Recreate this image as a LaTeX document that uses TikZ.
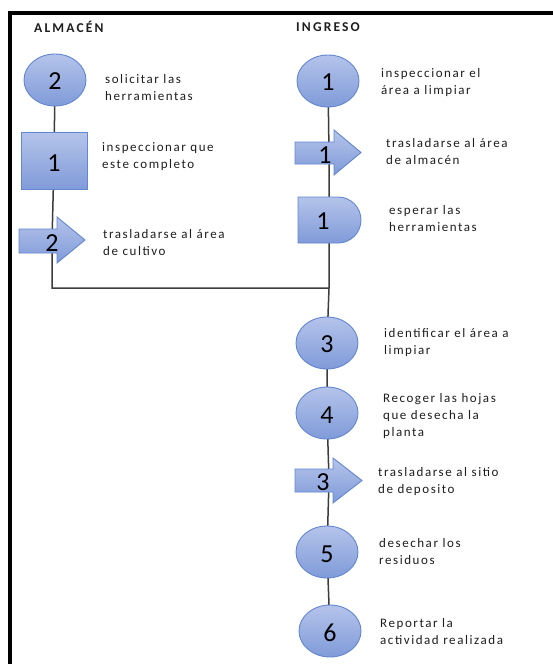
\documentclass[tikz,border=0pt]{standalone}
\usepackage{fontspec}
\setmainfont{Carlito}
\newfontfamily\lblfont[LetterSpace=12]{Carlito}
\newfontfamily\headfont[LetterSpace=16]{Carlito}
\usetikzlibrary{shapes.geometric,backgrounds}
\definecolor{symtop}{RGB}{180,195,234}
\definecolor{symbot}{RGB}{128,155,217}
\definecolor{symline}{RGB}{98,134,208}
\definecolor{spine}{RGB}{60,60,60}
\definecolor{ink}{RGB}{30,30,30}
\begin{document}
\begin{tikzpicture}[x=1pt,y=-1pt,
  sym/.style={top color=symtop,bottom color=symbot,draw=symline,line width=0.9pt},
  opcirc/.style={sym,ellipse,minimum width=62pt,minimum height=52pt,inner sep=0pt},
  inspbox/.style={sym,rectangle,minimum width=66pt,minimum height=57pt,inner sep=0pt},
  num/.style={font=\fontsize{26}{26}\selectfont,text=black,inner sep=0pt},
  lbl/.style={font=\lblfont\fontsize{13}{17}\selectfont,text=ink,align=left,anchor=base west,inner sep=0pt},
  headlbl/.style={font=\headfont\bfseries\fontsize{13.5}{15}\selectfont,text=ink,anchor=base west,inner sep=0pt},
  link/.style={draw=spine,line width=1.5pt}
]
\useasboundingbox (0,0) rectangle (553,664);

% column headings
\node[headlbl] (hA) at (34,32) {ALMACÉN};
\node[headlbl] (hI) at (296,31) {INGRESO};

% ---------------- ALMACÉN column ----------------
\node[opcirc] (l2) at (55,80) {};
\node[num] (l2n) at (55,81) {2};

\node[inspbox] (l1) at (54,161) {};
\node[num] (l1n) at (54,163) {1};

\coordinate (la2) at (52,241);
\coordinate (corner) at (52,288);
\coordinate (join) at (329,288);

% ---------------- INGRESO column ----------------
\node[opcirc] (r1) at (328,81) {};
\node[num] (r1n) at (328,82) {1};

\coordinate (ra1) at (329,153);
\coordinate (rd1) at (329,220);

\node[opcirc] (r3) at (327,343) {};
\node[num] (r3n) at (327,344) {3};

\node[opcirc] (r4) at (327,413) {};
\node[num] (r4n) at (327,415) {4};

\coordinate (ra3) at (329,480);

\node[opcirc] (r5) at (327,552) {};
\node[num] (r5n) at (327,554) {5};

\node[opcirc] (r6) at (330,631) {};
\node[num] (r6n) at (330,633) {6};

% ---------------- connectors (behind the symbols) ----------------
\begin{scope}[on background layer]
  \fill[white] (0,0) rectangle (553,664);
  \draw[link] (l2.center) -- (l1.center) -- (la2) -- (corner) -- (join);
  \draw[link] (r1.center) -- (ra1) -- (rd1) -- (join) -- (r3.center) -- (r4.center)
        -- (ra3) -- (r5.center) -- (r6.center);
\end{scope}

% transport arrows
\draw[sym] (19,229) -- (57,229) -- (57,217) -- (85,240) -- (57,263) -- (57,253) -- (19,253) -- cycle;
\node[num] (la2t) at (52,243) {2};

\draw[sym] (295,142) -- (334,142) -- (334,130) -- (361,152.5) -- (334,175) -- (334,164) -- (295,164) -- cycle;
\node[num] (ra1t) at (325,155) {1};

\draw[sym] (295,469) -- (333,469) -- (333,458) -- (362,480.5) -- (333,503) -- (333,492) -- (295,492) -- cycle;
\node[num] (ra3t) at (323,482) {3};

% delay symbol
\draw[sym] (298,197) -- (338,197) arc[start angle=-90,end angle=90,radius=23] -- (298,243) -- cycle;
\node[num] (rd1t) at (323,221) {1};

% outer frame (top and left edges)
\draw[line width=4pt,black] (553,13) -- (10,13) -- (10,664);

% ---------------- descriptions (anchored on the last line) ----------------
\node[lbl] (t1) at (105,100) {solicitar las\\herramientas};
\node[lbl] (t2) at (102,168) {inspeccionar que\\este completo};
\node[lbl] (t3) at (103,255) {trasladarse al área\\de cultivo};

\node[lbl] (t4) at (381,94) {inspeccionar el\\área a limpiar};
\node[lbl] (t5) at (386,164) {trasladarse al área\\de almacén};
\node[lbl] (t6) at (389,231) {esperar las\\herramientas};
\node[lbl] (t7) at (384,354) {identificar el área a\\limpiar};
\node[lbl] (t8) at (383,436) {Recoger las hojas\\que desecha la\\planta};
\node[lbl] (t9) at (378,493) {trasladarse al sitio\\de deposito};
\node[lbl] (t10) at (379,564) {desechar los\\residuos};
\node[lbl] (t11) at (380,644) {Reportar la\\actividad realizada};
\end{tikzpicture}
\end{document}
